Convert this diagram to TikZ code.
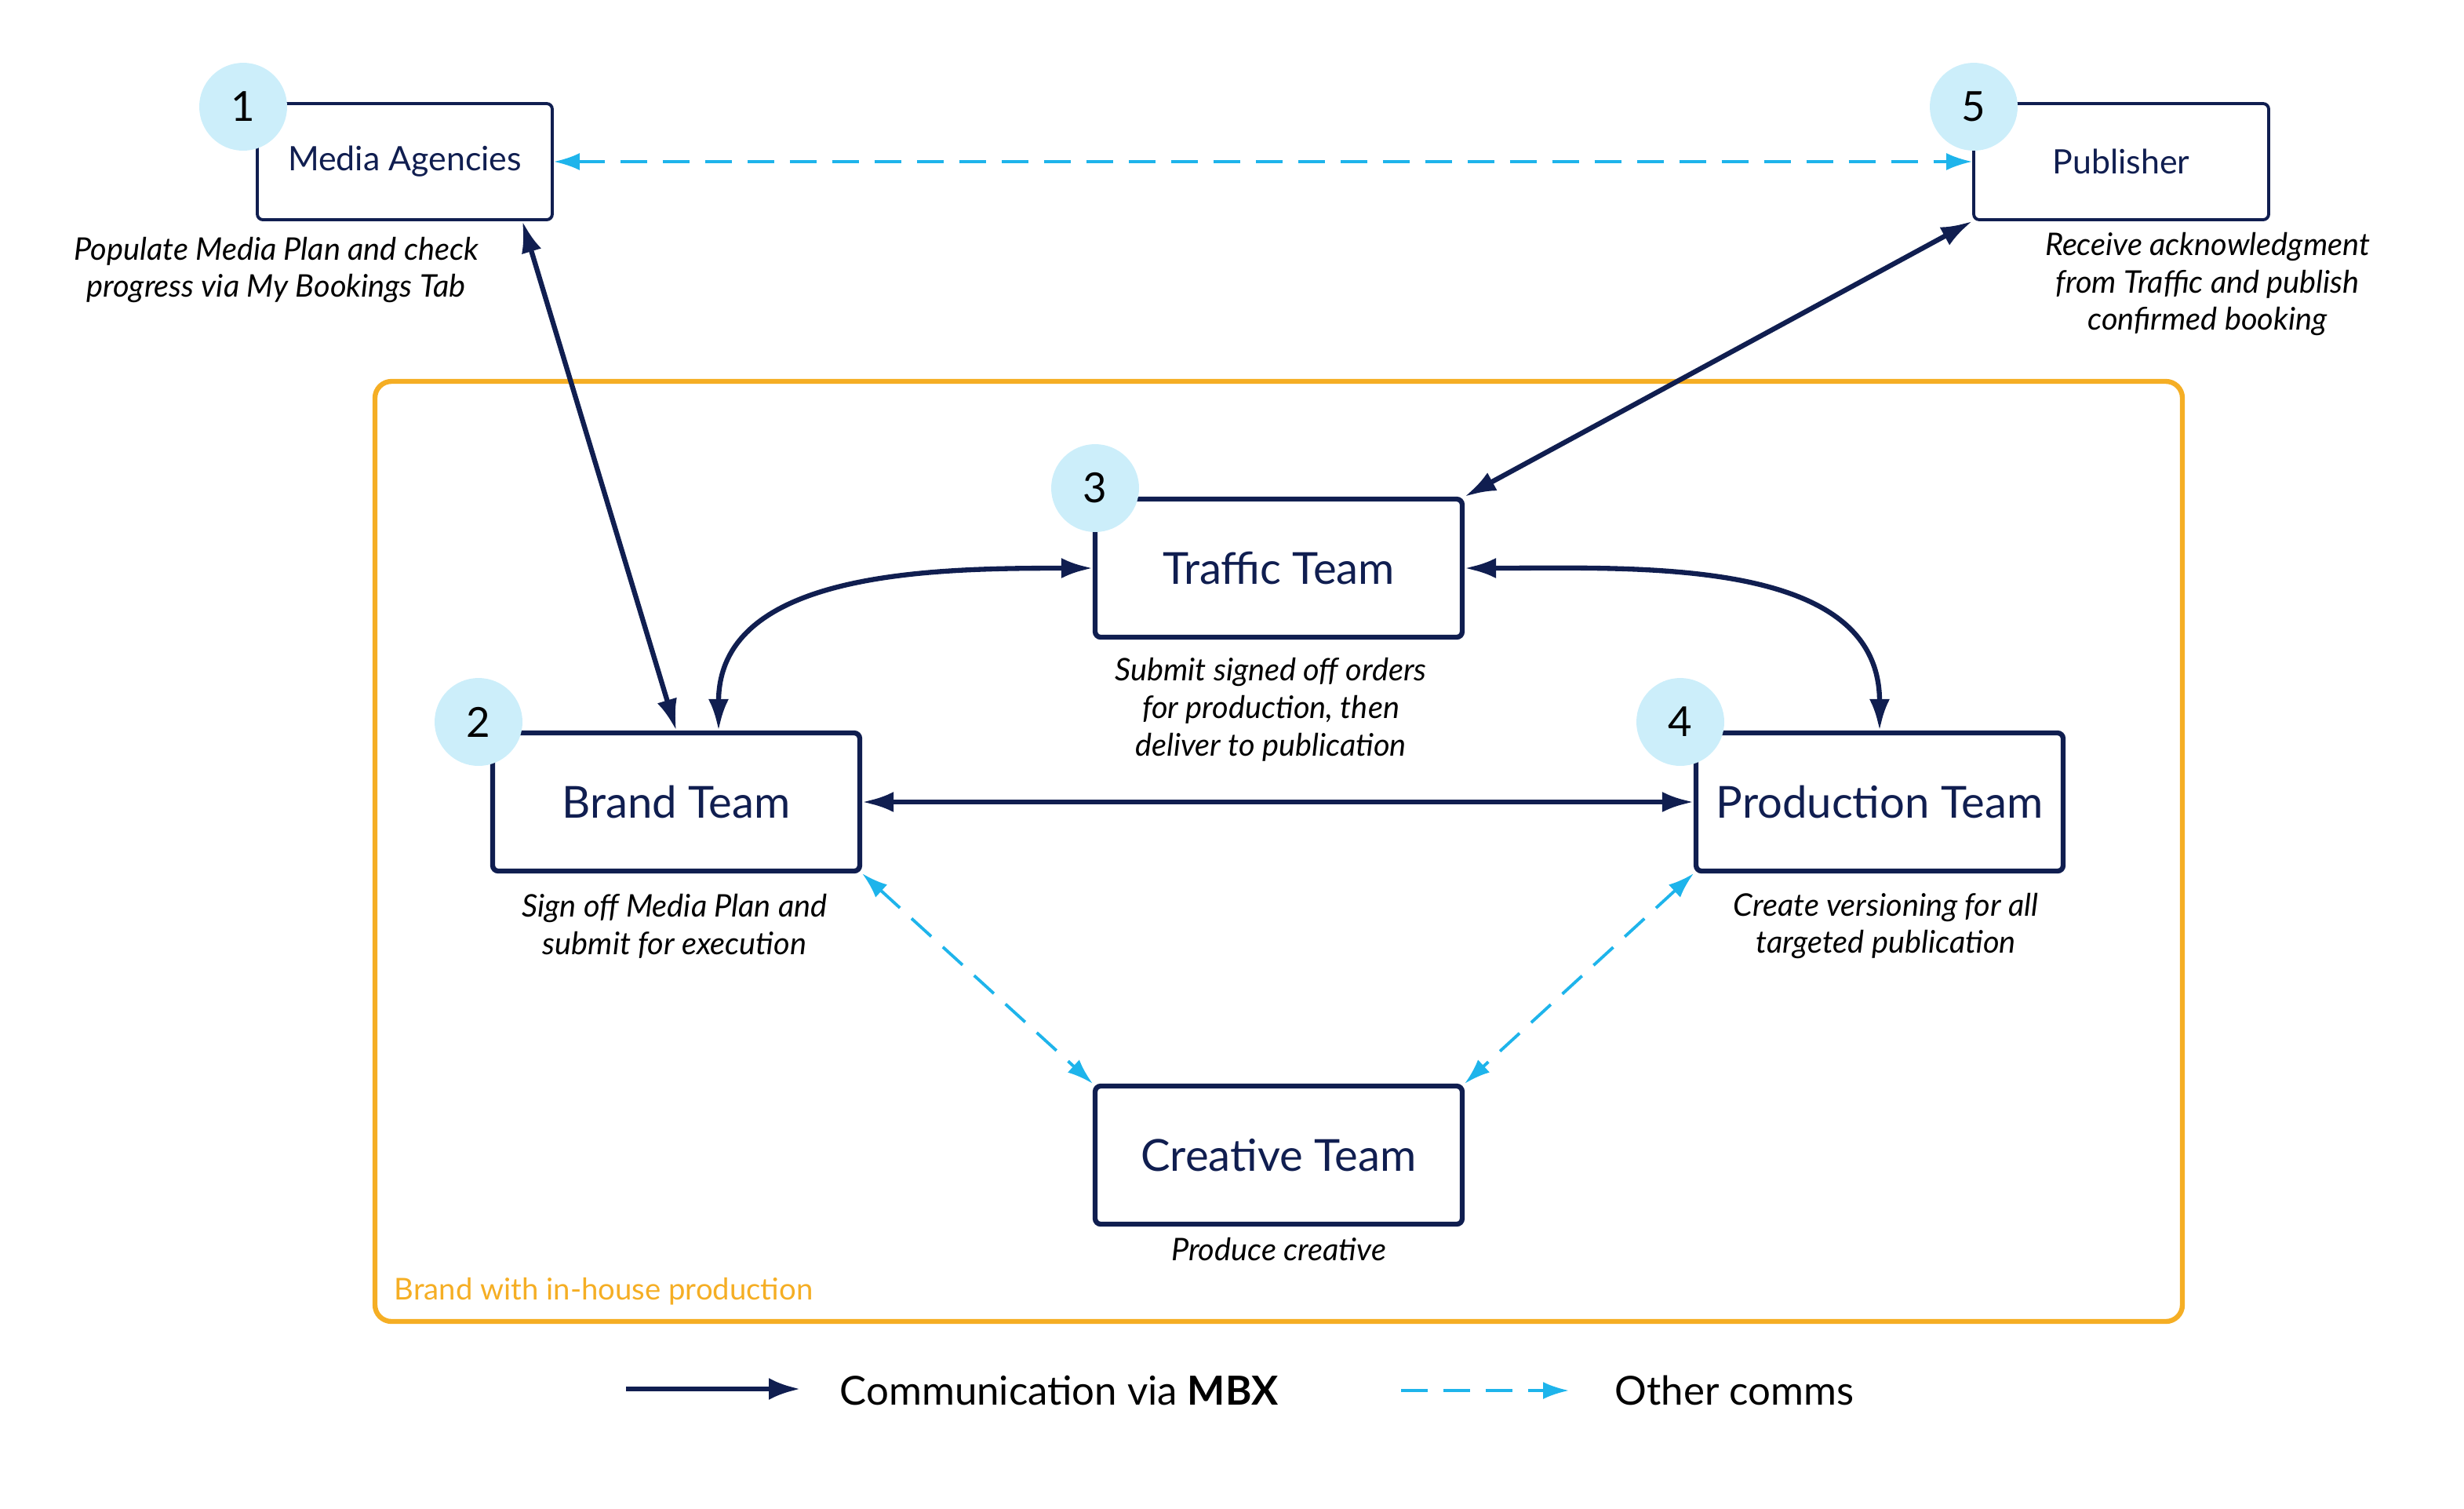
\documentclass[tikz,border=0pt]{standalone}
\usepackage{fontspec}
\setmainfont{Lato}
\usepackage{tikz}
\usetikzlibrary{arrows.meta,positioning,calc}
\definecolor{mbxnavy}{RGB}{16,30,80}
\definecolor{mbxblue}{RGB}{30,180,235}
\definecolor{mbxcircle}{RGB}{204,238,250}
\definecolor{mbxorange}{RGB}{245,174,36}
\tikzset{
	teambox/.style={draw=mbxnavy, line width=1.8pt, rounded corners=2pt, minimum width=4.68cm, minimum height=1.76cm, text=mbxnavy, font=\fontsize{16}{18}\selectfont},
	partybox/.style={draw=mbxnavy, line width=1.1pt, rounded corners=2pt, minimum width=3.76cm, minimum height=1.48cm, text=mbxnavy, font=\fontsize{12.2}{14}\selectfont},
	stepnum/.style={circle, fill=mbxcircle, minimum size=1.12cm, inner sep=0pt, font=\fontsize{15}{16}\selectfont},
	notetext/.style={align=center, font=\itshape\fontsize{11.3}{13.6}\selectfont},
	legendtext/.style={anchor=west, inner sep=0pt, font=\fontsize{14.5}{16}\selectfont},
	viambx/.style={draw=mbxnavy, line width=1.8pt, {Latex[length=0.4cm,width=0.26cm]}-{Latex[length=0.4cm,width=0.26cm]}},
	othercomms/.style={draw=mbxblue, line width=1.1pt, dash pattern=on 0.34cm off 0.2cm, {Latex[length=0.33cm,width=0.22cm]}-{Latex[length=0.33cm,width=0.22cm]}},
}
\begin{document}
\begin{tikzpicture}[x=0.02cm, y=-0.02cm]
	\useasboundingbox (0,0) rectangle (1570.5,961);
	\draw[mbxorange, line width=1.8pt, rounded corners=6pt] (239,243) rectangle (1391,842);
	\node[anchor=west, inner sep=0pt, text=mbxorange, font=\fontsize{10.9}{12}\selectfont] (frame) at (251,823) {Brand with in-house production};

	\node[partybox] (media) at (258,103) {Media Agencies};
	\node[partybox] (publisher) at (1352,103) {Publisher};
	\node[teambox] (traffic) at (815,362) {Traffic Team};
	\node[teambox] (brand) at (431,511) {Brand Team};
	\node[teambox] (production) at (1198,511) {Production Team};
	\node[teambox] (creative) at (815,736) {Creative Team};

	\node[stepnum] (n1) at (155,68) {1};
	\node[stepnum] (n2) at (305,460) {2};
	\node[stepnum] (n3) at (698,311) {3};
	\node[stepnum] (n4) at (1071,460) {4};
	\node[stepnum] (n5) at (1258,68) {5};

	\node[notetext] (mediatext) at (176,172) {Populate Media Plan and check\\progress via My Bookings Tab};
	\node[notetext] (publishertext) at (1407,181) {Receive acknowledgment\\from Traffic and publish\\confirmed booking};
	\node[notetext] (traffictext) at (810,452) {Submit signed off orders\\for production, then\\deliver to publication};
	\node[notetext] (brandtext) at (430,590) {Sign off Media Plan and\\submit for execution};
	\node[notetext] (productiontext) at (1202,590) {Create versioning for all\\targeted publication};
	\node[notetext] (creativetext) at (815,796) {Produce creative};

	\draw[othercomms] (media.east) -- (publisher.west);
	\draw[viambx] ([xshift=-0.4cm]media.south east) -- (brand.north);
	\draw[viambx] (publisher.south west) -- (traffic.north east);
	\draw[viambx] (traffic.west) to[out=180, in=90] ([xshift=0.54cm]brand.north);
	\draw[viambx] (traffic.east) to[out=0, in=90] (production.north);
	\draw[viambx] (brand.east) -- (production.west);
	\draw[othercomms] (brand.south east) -- (creative.north west);
	\draw[othercomms] (production.south west) -- (creative.north east);

	\coordinate (mbxa) at (399,885);
	\coordinate (mbxb) at (510,885);
	\coordinate (otha) at (893,886);
	\coordinate (othb) at (1000,886);
	\draw[viambx, {-Latex[length=0.4cm,width=0.28cm]}] (mbxa) -- (mbxb);
	\draw[othercomms, {-Latex[length=0.33cm,width=0.22cm]}] (otha) -- (othb);
	\node[legendtext] (mbxlabel) at (535,886) {Communication via \textbf{MBX}};
	\node[legendtext] (othlabel) at (1029,886) {Other comms};
\end{tikzpicture}
\end{document}
